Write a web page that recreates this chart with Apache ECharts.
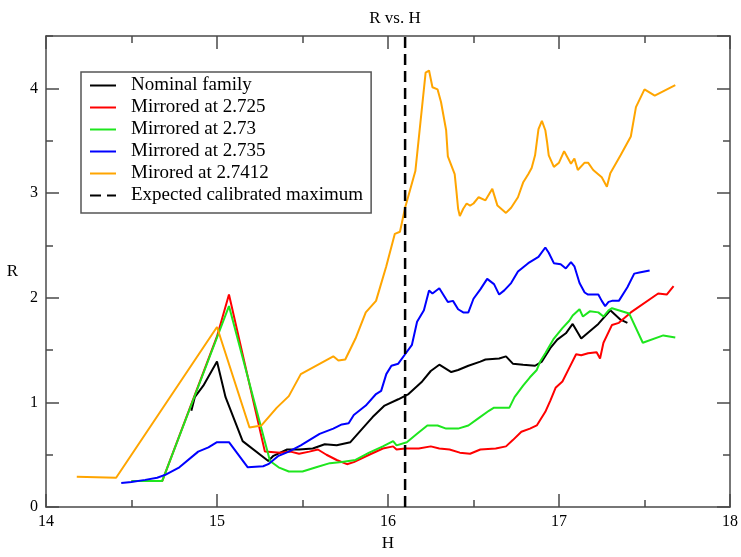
<!DOCTYPE html>
<html>
<head>
<meta charset="utf-8">
<script src="https://cdn.jsdelivr.net/npm/echarts@6/dist/echarts.min.js"></script>
<style>
html,body{margin:0;padding:0;background:#fff;}
#chart{width:741px;height:557px;}
</style>
</head>
<body>
<div id="chart"></div>
<script>
// ---- data (H, R) ----
const xTicks = [14, 15, 16, 17, 18];
const yTicks = [0, 1, 2, 3, 4];
const seriesNames = ['Nominal family', 'Mirrored at 2.725', 'Mirrored at 2.73', 'Mirrored at 2.735', 'Mirored at 2.7412', 'Expected calibrated maximum'];

const nominal = [[14.85,0.92],[14.87,1.05],[14.92,1.16],[15.00,1.39],[15.05,1.05],[15.15,0.63],[15.30,0.44],[15.33,0.49],[15.41,0.55],[15.48,0.55],[15.56,0.56],[15.63,0.60],[15.70,0.59],[15.78,0.62],[15.85,0.75],[15.91,0.86],[15.98,0.97],[16.06,1.03],[16.12,1.08],[16.20,1.20],[16.25,1.30],[16.30,1.36],[16.37,1.29],[16.41,1.31],[16.47,1.35],[16.54,1.39],[16.57,1.41],[16.65,1.42],[16.69,1.44],[16.73,1.37],[16.79,1.36],[16.86,1.35],[16.90,1.39],[16.95,1.52],[16.99,1.60],[17.04,1.66],[17.08,1.75],[17.13,1.61],[17.23,1.75],[17.30,1.88],[17.36,1.79],[17.40,1.76]];

const mirrored2725 = [[14.50,0.25],[14.68,0.25],[15.00,1.63],[15.07,2.03],[15.28,0.53],[15.37,0.52],[15.43,0.53],[15.48,0.51],[15.54,0.53],[15.59,0.55],[15.64,0.50],[15.70,0.45],[15.76,0.41],[15.80,0.43],[15.89,0.50],[15.97,0.56],[16.03,0.58],[16.05,0.55],[16.10,0.56],[16.18,0.56],[16.25,0.58],[16.30,0.56],[16.36,0.55],[16.42,0.52],[16.48,0.51],[16.54,0.55],[16.63,0.56],[16.69,0.58],[16.73,0.64],[16.78,0.72],[16.83,0.75],[16.87,0.78],[16.92,0.91],[16.95,1.02],[16.98,1.14],[17.02,1.20],[17.06,1.33],[17.10,1.46],[17.13,1.45],[17.17,1.47],[17.22,1.48],[17.24,1.42],[17.26,1.57],[17.31,1.74],[17.35,1.76],[17.42,1.86],[17.58,2.04],[17.63,2.03],[17.67,2.11]];

const mirrored273 = [[14.50,0.25],[14.68,0.25],[15.00,1.62],[15.07,1.92],[15.31,0.44],[15.36,0.38],[15.42,0.34],[15.50,0.34],[15.58,0.38],[15.66,0.42],[15.73,0.43],[15.81,0.45],[15.89,0.52],[15.97,0.58],[16.03,0.63],[16.05,0.59],[16.11,0.62],[16.17,0.70],[16.23,0.78],[16.29,0.78],[16.34,0.75],[16.41,0.75],[16.47,0.78],[16.53,0.85],[16.59,0.92],[16.62,0.95],[16.71,0.95],[16.74,1.05],[16.79,1.16],[16.83,1.24],[16.87,1.31],[16.89,1.39],[16.92,1.47],[16.97,1.61],[17.02,1.71],[17.06,1.78],[17.08,1.83],[17.12,1.89],[17.14,1.82],[17.18,1.87],[17.23,1.86],[17.26,1.82],[17.29,1.88],[17.31,1.90],[17.41,1.85],[17.49,1.57],[17.61,1.64],[17.68,1.62]];

const mirrored2735 = [[14.44,0.23],[14.50,0.24],[14.58,0.26],[14.65,0.28],[14.70,0.31],[14.78,0.38],[14.89,0.53],[14.95,0.57],[15.00,0.62],[15.07,0.62],[15.18,0.38],[15.27,0.39],[15.30,0.41],[15.36,0.49],[15.42,0.53],[15.49,0.59],[15.54,0.64],[15.60,0.70],[15.68,0.75],[15.73,0.79],[15.77,0.80],[15.80,0.88],[15.87,0.97],[15.93,1.08],[15.96,1.11],[15.99,1.27],[16.02,1.35],[16.06,1.37],[16.10,1.46],[16.14,1.55],[16.17,1.77],[16.21,1.88],[16.24,2.07],[16.26,2.04],[16.30,2.09],[16.35,1.96],[16.38,1.97],[16.41,1.89],[16.44,1.86],[16.47,1.86],[16.50,1.99],[16.54,2.08],[16.58,2.18],[16.62,2.13],[16.65,2.03],[16.68,2.07],[16.72,2.14],[16.76,2.25],[16.82,2.33],[16.88,2.39],[16.92,2.48],[16.94,2.43],[16.97,2.33],[17.01,2.32],[17.04,2.28],[17.07,2.34],[17.09,2.30],[17.12,2.14],[17.15,2.05],[17.17,2.03],[17.23,2.03],[17.25,1.97],[17.27,1.92],[17.29,1.96],[17.31,1.97],[17.35,1.97],[17.40,2.10],[17.44,2.23],[17.47,2.24],[17.53,2.26]];

const mirored27412 = [[14.18,0.29],[14.41,0.28],[15.00,1.72],[15.19,0.76],[15.26,0.78],[15.35,0.95],[15.42,1.06],[15.49,1.27],[15.68,1.44],[15.71,1.40],[15.75,1.41],[15.81,1.61],[15.87,1.86],[15.93,1.97],[15.99,2.30],[16.04,2.61],[16.07,2.63],[16.10,2.86],[16.16,3.21],[16.22,4.15],[16.24,4.17],[16.26,4.01],[16.29,3.99],[16.31,3.87],[16.34,3.60],[16.35,3.35],[16.39,3.18],[16.40,3.02],[16.41,2.85],[16.42,2.78],[16.44,2.85],[16.46,2.90],[16.48,2.88],[16.50,2.90],[16.53,2.96],[16.57,2.93],[16.61,3.04],[16.64,2.88],[16.69,2.81],[16.72,2.86],[16.76,2.96],[16.79,3.10],[16.82,3.18],[16.84,3.24],[16.86,3.36],[16.88,3.61],[16.90,3.69],[16.92,3.60],[16.93,3.49],[16.94,3.36],[16.97,3.25],[17.00,3.29],[17.03,3.40],[17.07,3.28],[17.09,3.33],[17.11,3.22],[17.15,3.29],[17.17,3.29],[17.20,3.22],[17.25,3.15],[17.28,3.06],[17.30,3.19],[17.36,3.36],[17.42,3.54],[17.45,3.82],[17.50,3.99],[17.56,3.93],[17.68,4.03]];

const expectedMaxH = 16.1;
const expectedMaxLine = [[expectedMaxH, 0], [expectedMaxH, 4.5]];

// ---- chart ----
const serif = 'Liberation Serif';
const frame = '#4a4a4a';
const colors = ['#000000', '#ff0000', '#1ee61e', '#0000ff', '#ffa500', '#000000'];

function xAx(pos, labels) {
  return {
    type: 'value', position: pos, min: xTicks[0], max: xTicks[xTicks.length-1], interval: 1,
    axisLine: {show: true, onZero: false, lineStyle: {color: frame, width: 1.5}},
    axisTick: {show: true, inside: true, length: 13, lineStyle: {color: frame, width: 1.5}},
    minorTick: {show: true, splitNumber: 2, length: 7, lineStyle: {color: frame, width: 1.5}},
    splitLine: {show: false}, minorSplitLine: {show: false},
    axisLabel: {show: labels, fontFamily: serif, fontSize: 16, color: '#000', margin: 7},
    name: labels ? 'H' : '', nameLocation: 'middle', nameGap: 27,
    nameTextStyle: {fontFamily: serif, fontSize: 17, color: '#000'}
  };
}
function yAx(pos, interval, len, labels, showLine) {
  return {
    type: 'value', position: pos, min: 0, max: 4.5, interval: interval,
    axisLine: {show: showLine, onZero: false, lineStyle: {color: frame, width: 1.5}},
    axisTick: {show: true, inside: true, length: len, lineStyle: {color: frame, width: 1.5}},
    splitLine: {show: false},
    axisLabel: {show: labels, showMaxLabel: false, fontFamily: serif, fontSize: 16, color: '#000', margin: 8,
      formatter: v => (yTicks.indexOf(v) >= 0 ? String(v) : '')},
    name: labels ? 'R' : '', nameLocation: 'middle', nameGap: 28, nameRotate: 0,
    nameTextStyle: {fontFamily: serif, fontSize: 17, color: '#000'}
  };
}

const dataSets = [nominal, mirrored2725, mirrored273, mirrored2735, mirored27412];
const series = dataSets.map((d, i) => ({
  name: seriesNames[i], type: 'line', data: d, xAxisIndex: 0, yAxisIndex: 0,
  symbol: 'none', showSymbol: false, smooth: false, clip: true,
  lineStyle: {color: colors[i], width: 2}, itemStyle: {color: colors[i]}
}));
series.push({
  name: seriesNames[5], type: 'line', data: expectedMaxLine, xAxisIndex: 0, yAxisIndex: 0,
  symbol: 'none', showSymbol: false,
  lineStyle: {color: '#000', width: 2.5, type: [11, 6]}, itemStyle: {color: '#000'}
});

const chart = echarts.init(document.getElementById('chart'), null, {renderer: 'canvas'});
chart.setOption({
  animation: false,
  backgroundColor: '#fff',
  title: {text: 'R vs. H', left: 390, top: 5, textAlign: 'center',
    textStyle: {fontFamily: serif, fontSize: 17, fontWeight: 'normal', color: '#000'}},
  grid: {left: 46, right: 8, top: 36, bottom: 42, containLabel: false},
  xAxis: [xAx('bottom', true), xAx('top', false)],
  yAxis: [yAx('left', 1, 13, true, true), yAx('right', 1, 13, false, true),
          yAx('left', 0.5, 7, false, false), yAx('right', 0.5, 7, false, false)],
  legend: {
    orient: 'vertical', left: 81, top: 72,
    backgroundColor: '#fff', borderColor: '#555', borderWidth: 1.5, borderRadius: 0,
    padding: [4, 8, 8, 8], itemWidth: 26, itemHeight: 14, itemGap: 3,
    itemStyle: {opacity: 0, borderWidth: 0},
    textStyle: {fontFamily: serif, fontSize: 19, color: '#000', lineHeight: 18, padding: [0, 0, 0, 10]},
    data: seriesNames
  },
  series: series
});
</script>
</body>
</html>
